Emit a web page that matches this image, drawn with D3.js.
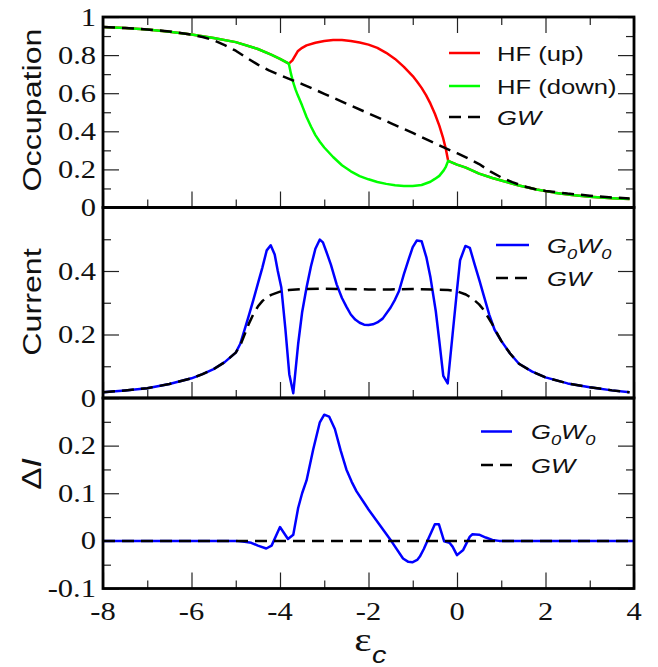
<!DOCTYPE html>
<html>
<head>
<meta charset="utf-8">
<script src="https://cdn.jsdelivr.net/npm/d3@7"></script>
<style>
  html, body { margin: 0; padding: 0; background: #fff; }
  svg { display: block; }
</style>
</head>
<body>
<svg id="chart" width="658" height="667"></svg>
<script>
// ---------------- DATA ----------------
const xDomain = [-8, 4];
const xMajorTicks = [-8, -6, -4, -2, 0, 2, 4];
const xMinorTicks = [-7, -5, -3, -1, 1, 3];
const xTickLabels = ["-8", "-6", "-4", "-2", "0", "2", "4"];

// Panel 1: Occupation
const occDomain = [0, 1];
const occMajor = [0, 0.2, 0.4, 0.6, 0.8, 1];
const occMinor = [0.1, 0.3, 0.5, 0.7, 0.9];
const occLabelVals = [0, 0.2, 0.4, 0.6, 0.8, 1];
const occLabels = ["0", "0.2", "0.4", "0.6", "0.8", "1"];

const hfUp = [[-8,0.948],[-7.5,0.942],[-7,0.935],[-6.5,0.923],[-6,0.908],[-5.5,0.89],[-5,0.868],[-4.5,0.832],[-4.2,0.802],[-4,0.78],[-3.8,0.755],
  [-3.72,0.772],[-3.6,0.82],[-3.5,0.838],[-3.4,0.851],[-3.2,0.865],[-3,0.874],[-2.8,0.879],[-2.6,0.879],[-2.4,0.874],[-2.2,0.866],[-2,0.855],[-1.8,0.838],[-1.6,0.812],[-1.4,0.78],[-1.2,0.738],[-1,0.69],[-0.9,0.66],[-0.8,0.628],[-0.7,0.59],[-0.6,0.545],[-0.5,0.492],[-0.4,0.43],[-0.32,0.37],[-0.25,0.305],[-0.2,0.245],
  [0,0.225],[0.2,0.209],[0.5,0.178],[0.8,0.155],[1,0.142],[1.4,0.115],[1.8,0.094],[2.2,0.078],[2.6,0.066],[3,0.057],[3.5,0.049],[3.9,0.044]];
const hfDown = [[-8,0.948],[-7.5,0.942],[-7,0.935],[-6.5,0.923],[-6,0.908],[-5.5,0.89],[-5,0.868],[-4.5,0.832],[-4.2,0.802],[-4,0.78],[-3.8,0.755],
  [-3.75,0.7],[-3.7,0.655],[-3.65,0.62],[-3.6,0.59],[-3.5,0.535],[-3.4,0.475],[-3.3,0.425],[-3.2,0.38],[-3.1,0.345],[-3,0.315],[-2.8,0.265],[-2.6,0.222],[-2.4,0.19],[-2.2,0.165],[-2,0.148],[-1.8,0.134],[-1.6,0.124],[-1.4,0.117],[-1.2,0.113],[-1,0.113],[-0.8,0.118],[-0.6,0.135],[-0.5,0.15],[-0.4,0.166],[-0.3,0.195],[-0.25,0.215],[-0.2,0.245],
  [0,0.225],[0.2,0.209],[0.5,0.178],[0.8,0.155],[1,0.142],[1.4,0.115],[1.8,0.094],[2.2,0.078],[2.6,0.066],[3,0.057],[3.5,0.049],[3.9,0.044]];
const occGW = [[-8,0.948],[-7.5,0.942],[-7,0.935],[-6.5,0.924],[-6,0.907],[-5.75,0.895],[-5.5,0.878],[-5.25,0.852],[-5,0.823],[-4.75,0.785],[-4.5,0.75],[-4.25,0.72],[-4,0.695],[-3.5,0.648],[-3,0.597],[-2.5,0.545],[-2,0.494],[-1.5,0.443],[-1,0.392],[-0.5,0.337],[-0.25,0.31],[0,0.285],[0.25,0.258],[0.5,0.228],[0.75,0.19],[1,0.158],[1.25,0.133],[1.5,0.112],[1.75,0.097],[2,0.087],[2.5,0.073],[3,0.062],[3.5,0.053],[3.9,0.047]];

// Panel 2: Current
const curDomain = [0, 0.6];
const curMajor = [0, 0.2, 0.4, 0.6];
const curMinor = [0.1, 0.3, 0.5];
const curLabelVals = [0, 0.2, 0.4];
const curLabels = ["0", "0.2", "0.4"];

const curG0W0 = [[-8,0.018],[-7.5,0.024],[-7,0.031],[-6.5,0.044],[-6,0.062],[-5.75,0.075],[-5.5,0.091],[-5.25,0.113],[-5,0.143],[-4.9,0.17],[-4.8,0.215],[-4.7,0.262],[-4.6,0.31],[-4.5,0.36],[-4.4,0.41],[-4.3,0.465],[-4.21,0.481],[-4.12,0.452],[-4.05,0.4],[-3.97,0.348],[-3.88,0.22],[-3.79,0.075],[-3.7,0.015],[-3.59,0.17],[-3.5,0.27],[-3.4,0.348],[-3.3,0.415],[-3.2,0.47],[-3.1,0.499],[-3.03,0.49],[-2.95,0.46],[-2.85,0.42],[-2.72,0.358],[-2.6,0.315],[-2.5,0.288],[-2.4,0.263],[-2.3,0.247],[-2.2,0.237],[-2.1,0.231],[-2,0.23],[-1.9,0.232],[-1.8,0.238],[-1.68,0.25],[-1.5,0.285],[-1.4,0.31],[-1.31,0.337],[-1.2,0.39],[-1.08,0.442],[-1,0.475],[-0.91,0.496],[-0.8,0.494],[-0.69,0.442],[-0.6,0.38],[-0.48,0.274],[-0.4,0.18],[-0.31,0.07],[-0.21,0.046],[-0.1,0.2],[0,0.34],[0.07,0.434],[0.19,0.479],[0.29,0.473],[0.4,0.42],[0.51,0.369],[0.6,0.325],[0.73,0.262],[0.85,0.215],[1,0.18],[1.2,0.14],[1.4,0.108],[1.7,0.083],[2,0.065],[2.5,0.046],[3,0.034],[3.5,0.024],[3.9,0.018]];
const curGW = [[-8,0.018],[-7.5,0.024],[-7,0.031],[-6.5,0.044],[-6,0.062],[-5.75,0.075],[-5.5,0.091],[-5.25,0.113],[-5,0.143],[-4.9,0.165],[-4.8,0.2],[-4.7,0.235],[-4.6,0.265],[-4.5,0.288],[-4.4,0.305],[-4.3,0.317],[-4.2,0.325],[-4,0.335],[-3.8,0.34],[-3.5,0.343],[-3,0.344],[-2.5,0.343],[-2,0.342],[-1.5,0.342],[-1,0.343],[-0.5,0.342],[-0.2,0.34],[0,0.336],[0.2,0.326],[0.35,0.313],[0.5,0.295],[0.6,0.278],[0.7,0.255],[0.8,0.232],[0.9,0.205],[1,0.18],[1.2,0.14],[1.4,0.108],[1.7,0.083],[2,0.065],[2.5,0.046],[3,0.034],[3.5,0.024],[3.9,0.018]];

// Panel 3: Delta I
const dDomain = [-0.1, 0.3];
const dMajor = [-0.1, 0, 0.1, 0.2, 0.3];
const dMinor = [-0.05, 0.05, 0.15, 0.25];
const dLabelVals = [-0.1, 0, 0.1, 0.2];
const dLabels = ["-0.1", "0", "0.1", "0.2"];

const dG0W0 = [[-8,0],[-5,0],[-4.8,-0.002],[-4.65,-0.004],[-4.5,-0.01],[-4.31,-0.016],[-4.19,-0.01],[-4,0.029],[-3.82,0.004],[-3.7,0.013],[-3.59,0.069],[-3.5,0.1],[-3.4,0.127],[-3.25,0.192],[-3.1,0.249],[-3,0.265],[-2.89,0.261],[-2.76,0.235],[-2.63,0.19],[-2.5,0.15],[-2.38,0.124],[-2.27,0.104],[-2.1,0.08],[-2,0.066],[-1.75,0.034],[-1.48,-0.001],[-1.22,-0.037],[-1.1,-0.044],[-1.01,-0.045],[-0.9,-0.04],[-0.84,-0.033],[-0.75,-0.017],[-0.66,0.002],[-0.5,0.035],[-0.41,0.035],[-0.29,-0.001],[-0.17,-0.004],[-0.1,-0.012],[0,-0.03],[0.14,-0.019],[0.29,0.009],[0.35,0.014],[0.5,0.013],[0.65,0.007],[0.8,0.002],[0.95,0],[4,0]];
const dGW = [[-8,0],[4,0]];

// ---------------- LAYOUT ----------------
const svg = d3.select("#chart");
const plotL = 103, plotR = 634;
const panelTop = [17, 207.5, 398];
const panelH = 190.5;
const K = 1.22;           // horizontal text stretch
const TICK_FONT = "'Liberation Serif','Times New Roman',serif";
const SANS = "'Liberation Sans',Arial,Helvetica,sans-serif";

const x = d3.scaleLinear().domain(xDomain).range([plotL, plotR]);

function txt(g, px, py, parts, o) {
  const t = g.append("text")
    .attr("transform", `translate(${px},${py}) rotate(${o.rot || 0}) scale(${o.k || K},1)`)
    .attr("font-family", o.fam)
    .attr("font-size", o.size)
    .attr("text-anchor", o.anchor || "start")
    .attr("fill", "#111");
  let shifted = 0;
  parts.forEach(p => {
    const s = t.append("tspan").text(p.t);
    if (p.italic) s.attr("font-style", "italic");
    if (p.fam) s.attr("font-family", p.fam);
    if (p.size) s.attr("font-size", p.size);
    const want = p.sub ? (p.dy || o.size * 0.3) : 0;
    if (want !== shifted) { s.attr("dy", want - shifted); shifted = want; }
  });
  return t;
}

const line = d3.line().x(d => x(d[0]));

function panel(idx, domain, major, minor, labelVals, labels, opts) {
  const top = panelTop[idx];
  const y = d3.scaleLinear().domain(domain).range([top + panelH, top]);
  const g = svg.append("g");
  const clipId = "clip" + idx;
  svg.append("clipPath").attr("id", clipId).append("rect")
    .attr("x", plotL).attr("y", top).attr("width", plotR - plotL).attr("height", panelH);

  function axisG(axis, tx, ty) {
    const a = g.append("g").attr("transform", `translate(${tx},${ty})`).call(axis);
    a.select(".domain").remove();
    a.selectAll("text").remove();
    a.selectAll("line").attr("stroke", "#222").attr("stroke-width", 1.2);
  }
  const majL = 16, minL = 8;
  axisG(d3.axisLeft(y).tickValues(major).tickSize(-majL), plotL, 0);
  axisG(d3.axisLeft(y).tickValues(minor).tickSize(-minL), plotL, 0);
  axisG(d3.axisRight(y).tickValues(major).tickSize(-majL), plotR, 0);
  axisG(d3.axisRight(y).tickValues(minor).tickSize(-minL), plotR, 0);
  axisG(d3.axisBottom(x).tickValues(xMajorTicks).tickSize(-majL), 0, top + panelH);
  axisG(d3.axisBottom(x).tickValues(xMinorTicks).tickSize(-minL), 0, top + panelH);
  if (opts.topTicks) {
    axisG(d3.axisTop(x).tickValues(xMajorTicks).tickSize(-majL), 0, top);
    axisG(d3.axisTop(x).tickValues(xMinorTicks).tickSize(-minL), 0, top);
  }

  labelVals.forEach((v, i) => {
    txt(g, 96, y(v) + 8.6, [{ t: labels[i] }], { fam: TICK_FONT, size: 25, anchor: "end" });
  });

  const dg = g.append("g").attr("clip-path", `url(#${clipId})`);
  opts.series.forEach(s => {
    dg.append("path")
      .attr("d", line.y(d => y(d[1]))(s.data))
      .attr("fill", "none")
      .attr("stroke", s.color)
      .attr("stroke-width", 2.5)
      .attr("stroke-linejoin", "round")
      .attr("stroke-dasharray", s.dash || null);
  });

  g.append("rect").attr("x", plotL).attr("y", top).attr("width", plotR - plotL).attr("height", panelH)
    .attr("fill", "none").attr("stroke", "#000").attr("stroke-width", 2.8);

  opts.legend.rows.forEach((r, i) => {
    const ly = opts.legend.y[i];
    g.append("line")
      .attr("x1", opts.legend.x0).attr("x2", opts.legend.x1)
      .attr("y1", ly).attr("y2", ly)
      .attr("stroke", r.color).attr("stroke-width", 2.5)
      .attr("stroke-dasharray", r.dash || null);
    txt(g, opts.legend.tx, ly + 7.6, r.parts, { fam: SANS, size: 21 });
  });

  txt(g, opts.title.x, opts.title.y, opts.title.parts, { fam: SANS, size: opts.title.size, anchor: "middle", rot: -90, k: 1.24 });
  return y;
}

const DASH = "12,7";
const GREEN = "#00ff00";
const gwParts = [{ t: "GW", italic: true }];
const g0w0Parts = [{ t: "G", italic: true }, { t: "0", italic: true, sub: true, size: 15, dy: 6 }, { t: "W", italic: true }, { t: "0", italic: true, sub: true, size: 15, dy: 6 }];

panel(0, occDomain, occMajor, occMinor, occLabelVals, occLabels, {
  topTicks: true,
  series: [
    { data: hfUp, color: "#ff0000" },
    { data: hfDown, color: GREEN },
    { data: occGW, color: "#000", dash: DASH }
  ],
  legend: {
    x0: 449, x1: 480, tx: 497, y: [53, 86, 117],
    rows: [
      { color: "#ff0000", parts: [{ t: "HF (up)" }] },
      { color: GREEN, parts: [{ t: "HF (down)" }] },
      { color: "#000", dash: DASH, parts: gwParts }
    ]
  },
  title: { x: 41, y: 110, size: 26, parts: [{ t: "Occupation" }] }
});

panel(1, curDomain, curMajor, curMinor, curLabelVals, curLabels, {
  series: [
    { data: curG0W0, color: "#0000ff" },
    { data: curGW, color: "#000", dash: DASH }
  ],
  legend: {
    x0: 496, x1: 529, tx: 547, y: [245, 278],
    rows: [
      { color: "#0000ff", parts: g0w0Parts },
      { color: "#000", dash: DASH, parts: gwParts }
    ]
  },
  title: { x: 41, y: 302, size: 26, parts: [{ t: "Current" }] }
});

panel(2, dDomain, dMajor, dMinor, dLabelVals, dLabels, {
  series: [
    { data: dG0W0, color: "#0000ff" },
    { data: dGW, color: "#000", dash: DASH }
  ],
  legend: {
    x0: 481, x1: 512, tx: 531, y: [431.5, 465],
    rows: [
      { color: "#0000ff", parts: g0w0Parts },
      { color: "#000", dash: DASH, parts: gwParts }
    ]
  },
  title: { x: 41, y: 474, size: 27, parts: [{ t: "Δ" }, { t: "I", italic: true }] }
});

// x tick labels
const gx = svg.append("g");
xMajorTicks.forEach((v, i) => {
  txt(gx, x(v), 620, [{ t: xTickLabels[i] }], { fam: TICK_FONT, size: 25, anchor: "middle" });
});
// x title: epsilon_c
txt(gx, 363, 651, [{ t: "ε" }], { fam: TICK_FONT, size: 33, anchor: "middle", k: 1.25 });
txt(gx, 372, 663, [{ t: "c", italic: true }], { fam: SANS, size: 24, anchor: "start", k: 1.2 });
</script>
</body>
</html>
